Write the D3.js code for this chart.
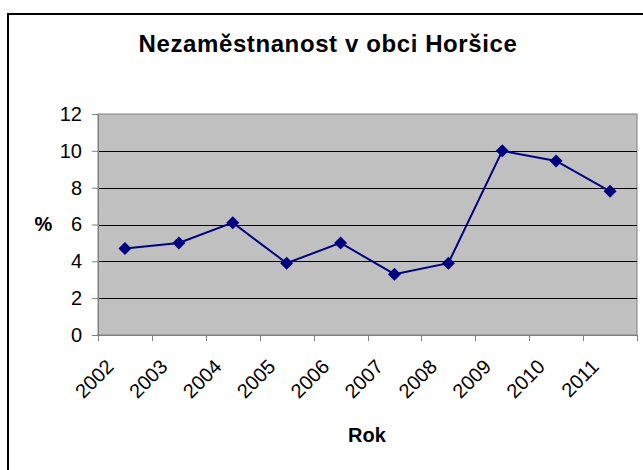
<!DOCTYPE html>
<html><head><meta charset="utf-8">
<script src="https://cdn.jsdelivr.net/npm/d3@7"></script>
<style>
body{margin:0;background:#fff;}
svg{display:block;font-family:"Liberation Sans",Arial,sans-serif;}
</style></head>
<body><svg id="c" width="643" height="470"></svg>
<script>
const years = ["2002","2003","2004","2005","2006","2007","2008","2009","2010","2011"];
const rates = [4.7, 5.0, 6.1, 3.9, 5.0, 3.3, 3.9, 10.0, 9.45, 7.8];
const yTicks = [0, 2, 4, 6, 8, 10, 12];
const title = "Nezaměstnanost v obci Horšice";
const xTitle = "Rok";
const yTitle = "%";

const svg = d3.select("#c");
const L = 98, R = 637, T = 114, B = 335;

// outer frame
svg.append("rect").attr("x", 8).attr("y", 14).attr("width", 700).attr("height", 500)
  .attr("fill", "#fff").attr("stroke", "#000").attr("stroke-width", 2);

const x = d3.scaleBand().domain(years).range([L, R]).padding(0);
const y = d3.scaleLinear().domain([0, 12]).range([B, T]);

// plot area
svg.append("rect").attr("x", L).attr("y", T).attr("width", R - L).attr("height", B - T)
  .attr("fill", "#C0C0C0").attr("stroke", "#808080").attr("stroke-width", 1);

// gridlines
svg.append("g").selectAll("line").data(yTicks.filter(d => d > 0 && d < 12)).join("line")
  .attr("x1", L).attr("x2", R).attr("y1", d => Math.round(y(d)) + 0.5).attr("y2", d => Math.round(y(d)) + 0.5)
  .attr("stroke", "#000").attr("stroke-width", 1);

// y axis
const ya = svg.append("g").attr("transform", `translate(${L},0)`)
  .call(d3.axisLeft(y).tickValues(yTicks).tickSize(6).tickPadding(10));
ya.select(".domain").attr("stroke", "#808080");
ya.selectAll(".tick line").attr("stroke", "#808080");
ya.selectAll("text").attr("font-size", 20).attr("fill", "#000").attr("font-family", "Liberation Sans, Arial, sans-serif");

// x axis
const xa = svg.append("g").attr("transform", `translate(0,${B})`)
  .call(d3.axisBottom(x).tickSize(0).tickFormat(""));
xa.select(".domain").attr("stroke", "#808080");
const edges = years.map(d => x(d)).concat([R]);
svg.append("g").selectAll("line").data(edges).join("line")
  .attr("x1", d => Math.round(d) + 0.5).attr("x2", d => Math.round(d) + 0.5)
  .attr("y1", B).attr("y2", B + 6).attr("stroke", "#808080");

svg.append("g").selectAll("text").data(years).join("text")
  .attr("transform", d => `translate(${x(d) + x.bandwidth() / 2 - 10},${B + 33}) rotate(-45)`)
  .attr("text-anchor", "end").attr("font-size", 20).attr("fill", "#000")
  .text(d => d);

// line
const line = d3.line().x((d, i) => x(years[i]) + x.bandwidth() / 2).y(d => y(d));
svg.append("path").datum(rates).attr("d", line).attr("fill", "none")
  .attr("stroke", "#000080").attr("stroke-width", 2);

svg.append("g").selectAll("path").data(rates).join("path")
  .attr("transform", (d, i) => `translate(${x(years[i]) + x.bandwidth() / 2},${y(d)})`)
  .attr("d", "M0,-6.5L6.5,0L0,6.5L-6.5,0Z").attr("fill", "#000080");

// titles
svg.append("text").attr("x", 328).attr("y", 52).attr("text-anchor", "middle")
  .attr("font-size", 24).attr("font-weight", "bold").attr("letter-spacing", 0.6).text(title);
svg.append("text").attr("x", 367).attr("y", 442).attr("text-anchor", "middle")
  .attr("font-size", 20).attr("font-weight", "bold").text(xTitle);
svg.append("text").attr("x", 43.5).attr("y", 231).attr("text-anchor", "middle")
  .attr("font-size", 20).attr("font-weight", "bold").text(yTitle);
</script></body></html>
